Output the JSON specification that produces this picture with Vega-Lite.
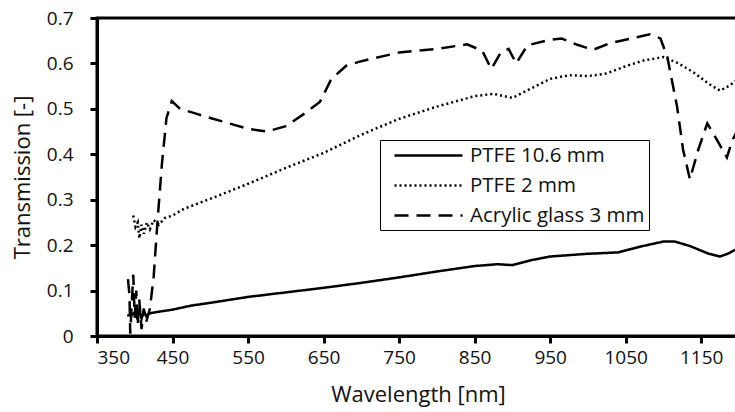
{
  "$schema": "https://vega.github.io/schema/vega-lite/v6.json",
  "autosize": "none",
  "width": 642,
  "height": 318,
  "padding": {"left": 97, "top": 18, "right": 0, "bottom": 76},
  "background": "white",
  "config": {
    "font": "Open Sans",
    "view": {"stroke": "black", "strokeWidth": 3}
  },
  "data": {"values": [
    {"s": "PTFE 10.6 mm", "wl": 390, "t": 0.045},
    {"s": "PTFE 10.6 mm", "wl": 396, "t": 0.046},
    {"s": "PTFE 10.6 mm", "wl": 400, "t": 0.052},
    {"s": "PTFE 10.6 mm", "wl": 403, "t": 0.04},
    {"s": "PTFE 10.6 mm", "wl": 406, "t": 0.058},
    {"s": "PTFE 10.6 mm", "wl": 409, "t": 0.038},
    {"s": "PTFE 10.6 mm", "wl": 412, "t": 0.055},
    {"s": "PTFE 10.6 mm", "wl": 415, "t": 0.044},
    {"s": "PTFE 10.6 mm", "wl": 420, "t": 0.05},
    {"s": "PTFE 10.6 mm", "wl": 430, "t": 0.053},
    {"s": "PTFE 10.6 mm", "wl": 450, "t": 0.058},
    {"s": "PTFE 10.6 mm", "wl": 475, "t": 0.067},
    {"s": "PTFE 10.6 mm", "wl": 500, "t": 0.073},
    {"s": "PTFE 10.6 mm", "wl": 550, "t": 0.086},
    {"s": "PTFE 10.6 mm", "wl": 600, "t": 0.096},
    {"s": "PTFE 10.6 mm", "wl": 650, "t": 0.106},
    {"s": "PTFE 10.6 mm", "wl": 700, "t": 0.117},
    {"s": "PTFE 10.6 mm", "wl": 750, "t": 0.129},
    {"s": "PTFE 10.6 mm", "wl": 800, "t": 0.142},
    {"s": "PTFE 10.6 mm", "wl": 850, "t": 0.154},
    {"s": "PTFE 10.6 mm", "wl": 880, "t": 0.158},
    {"s": "PTFE 10.6 mm", "wl": 900, "t": 0.156},
    {"s": "PTFE 10.6 mm", "wl": 925, "t": 0.167},
    {"s": "PTFE 10.6 mm", "wl": 950, "t": 0.175},
    {"s": "PTFE 10.6 mm", "wl": 1000, "t": 0.181},
    {"s": "PTFE 10.6 mm", "wl": 1040, "t": 0.184},
    {"s": "PTFE 10.6 mm", "wl": 1070, "t": 0.197},
    {"s": "PTFE 10.6 mm", "wl": 1100, "t": 0.208},
    {"s": "PTFE 10.6 mm", "wl": 1115, "t": 0.208},
    {"s": "PTFE 10.6 mm", "wl": 1135, "t": 0.198},
    {"s": "PTFE 10.6 mm", "wl": 1160, "t": 0.181},
    {"s": "PTFE 10.6 mm", "wl": 1175, "t": 0.175},
    {"s": "PTFE 10.6 mm", "wl": 1185, "t": 0.181},
    {"s": "PTFE 10.6 mm", "wl": 1200, "t": 0.194},
    {"s": "PTFE 2 mm", "wl": 398, "t": 0.265},
    {"s": "PTFE 2 mm", "wl": 401, "t": 0.24},
    {"s": "PTFE 2 mm", "wl": 404, "t": 0.25},
    {"s": "PTFE 2 mm", "wl": 406, "t": 0.215},
    {"s": "PTFE 2 mm", "wl": 409, "t": 0.245},
    {"s": "PTFE 2 mm", "wl": 412, "t": 0.225},
    {"s": "PTFE 2 mm", "wl": 416, "t": 0.25},
    {"s": "PTFE 2 mm", "wl": 420, "t": 0.235},
    {"s": "PTFE 2 mm", "wl": 425, "t": 0.255},
    {"s": "PTFE 2 mm", "wl": 432, "t": 0.245},
    {"s": "PTFE 2 mm", "wl": 440, "t": 0.26},
    {"s": "PTFE 2 mm", "wl": 450, "t": 0.265},
    {"s": "PTFE 2 mm", "wl": 465, "t": 0.28},
    {"s": "PTFE 2 mm", "wl": 500, "t": 0.302},
    {"s": "PTFE 2 mm", "wl": 550, "t": 0.335},
    {"s": "PTFE 2 mm", "wl": 600, "t": 0.37},
    {"s": "PTFE 2 mm", "wl": 650, "t": 0.403},
    {"s": "PTFE 2 mm", "wl": 700, "t": 0.443},
    {"s": "PTFE 2 mm", "wl": 750, "t": 0.478},
    {"s": "PTFE 2 mm", "wl": 800, "t": 0.505},
    {"s": "PTFE 2 mm", "wl": 850, "t": 0.528},
    {"s": "PTFE 2 mm", "wl": 875, "t": 0.533},
    {"s": "PTFE 2 mm", "wl": 900, "t": 0.524},
    {"s": "PTFE 2 mm", "wl": 925, "t": 0.545},
    {"s": "PTFE 2 mm", "wl": 950, "t": 0.566},
    {"s": "PTFE 2 mm", "wl": 975, "t": 0.574},
    {"s": "PTFE 2 mm", "wl": 1000, "t": 0.572},
    {"s": "PTFE 2 mm", "wl": 1025, "t": 0.578},
    {"s": "PTFE 2 mm", "wl": 1050, "t": 0.594},
    {"s": "PTFE 2 mm", "wl": 1075, "t": 0.607},
    {"s": "PTFE 2 mm", "wl": 1100, "t": 0.614},
    {"s": "PTFE 2 mm", "wl": 1120, "t": 0.6},
    {"s": "PTFE 2 mm", "wl": 1140, "t": 0.58},
    {"s": "PTFE 2 mm", "wl": 1160, "t": 0.555},
    {"s": "PTFE 2 mm", "wl": 1175, "t": 0.54},
    {"s": "PTFE 2 mm", "wl": 1188, "t": 0.552},
    {"s": "PTFE 2 mm", "wl": 1200, "t": 0.567},
    {"s": "Acrylic glass 3 mm", "wl": 391, "t": 0.125},
    {"s": "Acrylic glass 3 mm", "wl": 393, "t": 0.09},
    {"s": "Acrylic glass 3 mm", "wl": 394, "t": 0.005},
    {"s": "Acrylic glass 3 mm", "wl": 396, "t": 0.07},
    {"s": "Acrylic glass 3 mm", "wl": 398, "t": 0.135},
    {"s": "Acrylic glass 3 mm", "wl": 400, "t": 0.04},
    {"s": "Acrylic glass 3 mm", "wl": 402, "t": 0.1},
    {"s": "Acrylic glass 3 mm", "wl": 404, "t": 0.025},
    {"s": "Acrylic glass 3 mm", "wl": 406, "t": 0.08},
    {"s": "Acrylic glass 3 mm", "wl": 409, "t": 0.015},
    {"s": "Acrylic glass 3 mm", "wl": 412, "t": 0.06},
    {"s": "Acrylic glass 3 mm", "wl": 415, "t": 0.03},
    {"s": "Acrylic glass 3 mm", "wl": 420, "t": 0.06},
    {"s": "Acrylic glass 3 mm", "wl": 425, "t": 0.13},
    {"s": "Acrylic glass 3 mm", "wl": 430, "t": 0.25},
    {"s": "Acrylic glass 3 mm", "wl": 436, "t": 0.38},
    {"s": "Acrylic glass 3 mm", "wl": 442, "t": 0.48},
    {"s": "Acrylic glass 3 mm", "wl": 449, "t": 0.517},
    {"s": "Acrylic glass 3 mm", "wl": 460, "t": 0.5},
    {"s": "Acrylic glass 3 mm", "wl": 480, "t": 0.49},
    {"s": "Acrylic glass 3 mm", "wl": 500, "t": 0.48},
    {"s": "Acrylic glass 3 mm", "wl": 525, "t": 0.468},
    {"s": "Acrylic glass 3 mm", "wl": 550, "t": 0.456},
    {"s": "Acrylic glass 3 mm", "wl": 575, "t": 0.45},
    {"s": "Acrylic glass 3 mm", "wl": 600, "t": 0.462},
    {"s": "Acrylic glass 3 mm", "wl": 625, "t": 0.49},
    {"s": "Acrylic glass 3 mm", "wl": 645, "t": 0.515},
    {"s": "Acrylic glass 3 mm", "wl": 660, "t": 0.565},
    {"s": "Acrylic glass 3 mm", "wl": 680, "t": 0.595},
    {"s": "Acrylic glass 3 mm", "wl": 700, "t": 0.605},
    {"s": "Acrylic glass 3 mm", "wl": 750, "t": 0.624},
    {"s": "Acrylic glass 3 mm", "wl": 800, "t": 0.632},
    {"s": "Acrylic glass 3 mm", "wl": 840, "t": 0.642},
    {"s": "Acrylic glass 3 mm", "wl": 860, "t": 0.628},
    {"s": "Acrylic glass 3 mm", "wl": 872, "t": 0.588},
    {"s": "Acrylic glass 3 mm", "wl": 885, "t": 0.625},
    {"s": "Acrylic glass 3 mm", "wl": 895, "t": 0.632},
    {"s": "Acrylic glass 3 mm", "wl": 905, "t": 0.6},
    {"s": "Acrylic glass 3 mm", "wl": 920, "t": 0.64},
    {"s": "Acrylic glass 3 mm", "wl": 950, "t": 0.652},
    {"s": "Acrylic glass 3 mm", "wl": 965, "t": 0.655},
    {"s": "Acrylic glass 3 mm", "wl": 986, "t": 0.641},
    {"s": "Acrylic glass 3 mm", "wl": 1007, "t": 0.63},
    {"s": "Acrylic glass 3 mm", "wl": 1030, "t": 0.645},
    {"s": "Acrylic glass 3 mm", "wl": 1060, "t": 0.656},
    {"s": "Acrylic glass 3 mm", "wl": 1082, "t": 0.664},
    {"s": "Acrylic glass 3 mm", "wl": 1096, "t": 0.655},
    {"s": "Acrylic glass 3 mm", "wl": 1105, "t": 0.615},
    {"s": "Acrylic glass 3 mm", "wl": 1118, "t": 0.505},
    {"s": "Acrylic glass 3 mm", "wl": 1126, "t": 0.41},
    {"s": "Acrylic glass 3 mm", "wl": 1135, "t": 0.345},
    {"s": "Acrylic glass 3 mm", "wl": 1146, "t": 0.41},
    {"s": "Acrylic glass 3 mm", "wl": 1158, "t": 0.468},
    {"s": "Acrylic glass 3 mm", "wl": 1171, "t": 0.431},
    {"s": "Acrylic glass 3 mm", "wl": 1184, "t": 0.393},
    {"s": "Acrylic glass 3 mm", "wl": 1191, "t": 0.43},
    {"s": "Acrylic glass 3 mm", "wl": 1200, "t": 0.46}
  ]},
  "mark": {"type": "line", "color": "black", "strokeWidth": 2.5, "clip": true},
  "encoding": {
    "x": {"field": "wl", "type": "quantitative", "title": "Wavelength [nm]",
      "scale": {"domain": [350, 1200], "nice": false, "zero": false},
      "axis": {"values": [350, 450, 550, 650, 750, 850, 950, 1050, 1150], "format": "d", "grid": false, "domainColor": "black", "domainWidth": 3, "tickColor": "black", "tickWidth": 3, "tickSize": 7, "labelFont": "Open Sans", "labelFontSize": 19, "labelColor": "#111", "labelPadding": 5, "titleFont": "Open Sans", "titleFontSize": 22, "titleFontWeight": "normal", "titleColor": "#111", "titlePadding": 17}},
    "y": {"field": "t", "type": "quantitative", "title": "Transmission [-]",
      "scale": {"domain": [0, 0.7], "nice": false},
      "axis": {"values": [0, 0.1, 0.2, 0.3, 0.4, 0.5, 0.6, 0.7], "format": ".1~f", "grid": false, "domainColor": "black", "domainWidth": 3, "tickColor": "black", "tickWidth": 3, "tickSize": 7, "labelFont": "Open Sans", "labelFontSize": 19, "labelColor": "#111", "labelPadding": 17, "titleFont": "Open Sans", "titleFontSize": 22, "titleFontWeight": "normal", "titleColor": "#111", "titlePadding": 12}},
    "strokeDash": {"field": "s", "type": "nominal", "title": null,
      "scale": {"domain": ["PTFE 10.6 mm", "PTFE 2 mm", "Acrylic glass 3 mm"], "range": [[1, 0], [2, 3], [14, 8]]},
      "legend": {"orient": "none", "legendX": 283, "legendY": 122, "strokeColor": "black", "fillColor": "white", "padding": 4, "symbolType": "M-3.4,0H3.4", "symbolSize": 400, "symbolStrokeWidth": 2.5, "symbolStrokeColor": "black", "symbolOffset": 33, "labelFontSize": 20.5, "labelFont": "Open Sans", "labelColor": "#111", "labelLimit": 400, "rowPadding": 8, "labelOffset": 30}
    }
  }
}
